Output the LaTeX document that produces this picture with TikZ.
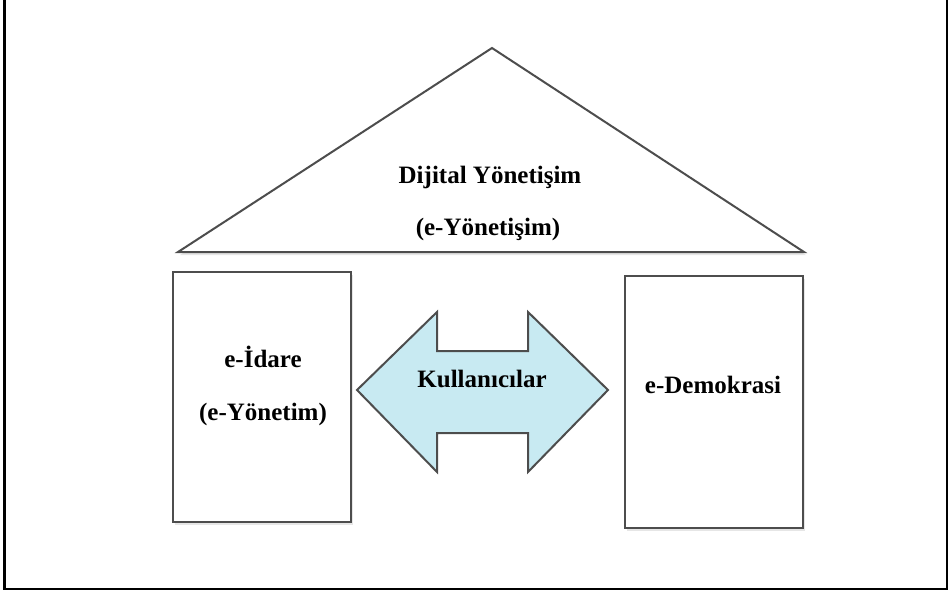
\documentclass[tikz,border=0pt]{standalone}
\usepackage{fontspec}
\setmainfont{Liberation Serif}
\usetikzlibrary{shadows}
\definecolor{edge}{HTML}{4D4D4D}
\definecolor{userfill}{HTML}{C8EAF2}
\begin{document}
\begin{tikzpicture}[x=1pt,y=-1pt,
  part/.style={draw=edge,line width=2.3pt,fill=white,
    drop shadow={opacity=0.2,shadow xshift=2pt,shadow yshift=-3pt}},
  lbl/.style={font=\bfseries\fontsize{25}{29}\selectfont,inner sep=0pt}]
\useasboundingbox (0,0) rectangle (949,591);
% open frame: left, bottom and right sides
\draw[line width=2.6pt,line join=miter] (4.5,0) -- (4.5,589) -- (946.8,589) -- (946.8,0);

% roof
\coordinate (apex) at (492,48);
\coordinate (eaveL) at (178,252);
\coordinate (eaveR) at (804,252);
\draw[part,line width=2pt,line join=miter] (apex) -- (eaveR) -- (eaveL) -- cycle;
\node[lbl] (dy) at (490,177) {Dijital Yönetişim};
\node[lbl] (ey) at (488,229) {(e-Yönetişim)};

% pillars
\node[part,minimum width=178pt,minimum height=250pt,inner sep=0pt] (idare) at (262,397) {};
\node[lbl] (id1) at (263,357) {e-İdare};
\node[lbl] (id2) at (263,414) {(e-Yönetim)};

\node[part,minimum width=178pt,minimum height=252pt,inner sep=0pt] (demo) at (714,402) {};
\node[lbl] (dm) at (713,385) {e-Demokrasi};

% users: two-headed arrow between the pillars
\draw[draw=edge,line width=2pt,fill=userfill,line join=miter]
  (357,390) -- (437,312) -- (437,351) -- (528,351) -- (528,312)
  -- (608,390) -- (528,472) -- (528,433) -- (437,433) -- (437,472) -- cycle;
\node[lbl] (ku) at (482,379) {Kullanıcılar};
\end{tikzpicture}
\end{document}
